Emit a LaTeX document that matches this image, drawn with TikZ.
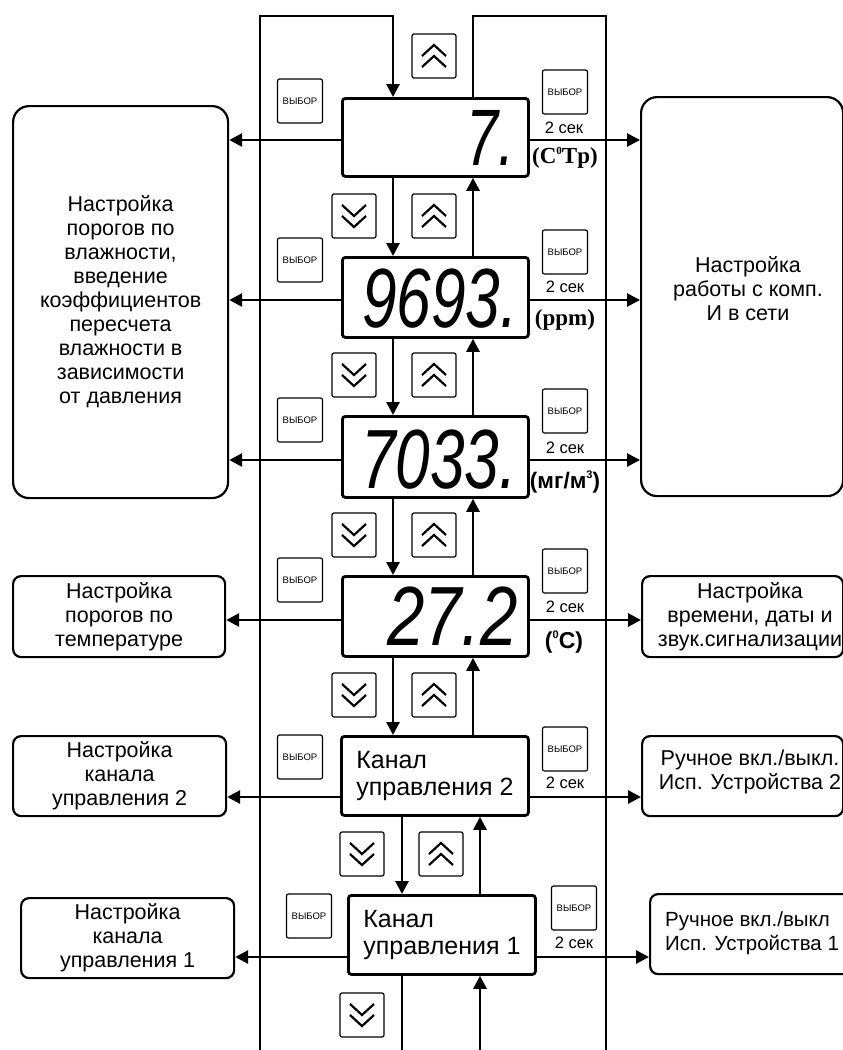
\documentclass[tikz,border=0pt]{standalone}
\usepackage{fontspec}
\usepackage{graphicx}
\setmainfont{Liberation Sans}
\newfontfamily\tnr{Liberation Serif}
\usetikzlibrary{arrows.meta}
\newcommand{\smsup}[1]{\raisebox{0.85ex}{\fontsize{11}{11}\selectfont #1}}
\tikzset{
 ln/.style={line width=2.8pt},
 arr/.style={line width=2.8pt,-{Triangle[length=13pt,width=13pt]}},
 disp/.style={draw,line width=2.8pt,rounded corners=3pt,inner sep=0pt,anchor=north west},
 sidebox/.style={draw,line width=2.2pt,inner sep=0pt,anchor=north west,align=center,font=\fontsize{21.5}{24}\selectfont},
 sidetext/.style={inner sep=0pt,align=center,font=\fontsize{21.5}{24}\selectfont},
 btn/.style={draw,line width=1.2pt,rounded corners=2pt,minimum width=44pt,minimum height=44pt,inner sep=0pt},
 selbtn/.style={btn,minimum width=45pt,font=\fontsize{9.5}{10}\selectfont},
 sectext/.style={inner sep=0pt,font=\fontsize{16.5}{16.5}\selectfont},
 chev/.style={line width=2.2pt},
 segtext/.style={inner sep=0pt,anchor=base east,font=\fontsize{84}{84}\selectfont\itshape},
 unit/.style={inner sep=0pt},
 chan/.style={disp,align=left,font=\fontsize{25}{27}\selectfont},
}
\begin{document}
\begin{tikzpicture}[x=1pt,y=-1pt]
\useasboundingbox (0,0) rectangle (843,1050);
\clip (0,0) rectangle (843,1050);
% helper coordinates
\coordinate (xd) at (393,0); \coordinate (xu) at (473,0);
\coordinate (xd2) at (402,0); \coordinate (xu2) at (480,0);
\coordinate (y1) at (0,140); \coordinate (y2) at (0,300); \coordinate (y3) at (0,460);
\coordinate (y4) at (0,620); \coordinate (y5) at (0,797); \coordinate (y6) at (0,957);
\coordinate (lrb) at (260,1055); \coordinate (lrt) at (260,16);
\coordinate (rrb) at (606,1055); \coordinate (rrt) at (606,16);
% display boxes
\node[disp,minimum width=186pt,minimum height=78pt] (b1) at (341,97) {};
\node[disp,minimum width=186pt,minimum height=80pt] (b2) at (341,256) {};
\node[disp,minimum width=186pt,minimum height=81pt] (b3) at (341,415) {};
\node[disp,minimum width=186pt,minimum height=80pt] (b4) at (341,575) {};
\node[chan,minimum width=187pt,minimum height=79pt] (b5) at (340,735) {Канал\\управления 2};
\node[chan,minimum width=187pt,minimum height=79pt] (b6) at (347,894) {Канал\\управления 1};
% display readings
\node[segtext,font=\fontsize{80}{80}\selectfont\itshape] (d1) at (515,165) {\scalebox{0.72}[1]{7.}};
\node[segtext] (d2) at (518,327) {\scalebox{0.74}[1]{9693.}};
\node[segtext] (d3) at (517,488) {\scalebox{0.74}[1]{7033.}};
\node[segtext] (d4) at (518,645) {\scalebox{0.8}[1]{27.2}};
% units
\node[unit,font=\tnr\bfseries\fontsize{23}{23}\selectfont] (un1) at (565,158) {(C\smsup{0}Tp)};
\node[unit,font=\tnr\bfseries\fontsize{23}{23}\selectfont] (un2) at (565,320) {(ppm)};
\node[unit,font=\bfseries\fontsize{22.5}{22.5}\selectfont] (un3) at (565,482) {(мг/м\smsup{3})};
\node[unit,font=\bfseries\fontsize{23}{23}\selectfont] (un4) at (564,642) {(\smsup{0}C)};
% side boxes
\node[sidebox,rounded corners=16pt,minimum width=215pt,minimum height=392pt] (L1) at (12,105)
 {Настройка\\порогов по\\влажности,\\введение\\коэффициентов\\пересчета\\влажности в\\зависимости\\от давления};
\node[sidebox,rounded corners=16pt,minimum width=202pt,minimum height=399pt] (R1) at (640,96) {};
\node[sidetext] (R1t) at (748,289) {Настройка\\работы с комп.\\И в сети};
\node[sidebox,rounded corners=8pt,minimum width=212pt,minimum height=81pt] (L4) at (12,575) {Настройка\\порогов по\\температуре};
\node[sidebox,rounded corners=8pt,minimum width=201pt,minimum height=81pt] (R4) at (641,575) {};
\node[sidetext] (R4t) at (750,617) {Настройка\\времени, даты и\\звук.сигнализации};
\node[sidebox,rounded corners=8pt,minimum width=213pt,minimum height=80pt] (L5) at (12,735) {Настройка\\канала\\управления 2};
\node[sidebox,rounded corners=8pt,minimum width=201pt,minimum height=80pt] (R5) at (641,735) {};
\node[sidetext] (R5t) at (750,772) {Ручное вкл./выкл.\\Исп. Устройства 2};
\node[sidebox,rounded corners=8pt,minimum width=213pt,minimum height=80pt] (L6) at (20,897) {Настройка\\канала\\управления 1};
\node[sidebox,rounded corners=8pt,minimum width=215pt,minimum height=80pt] (R6) at (649,893) {};
\node[sidetext,align=left,anchor=west,font=\fontsize{20.5}{24}\selectfont] (R6t) at (665,933) {Ручное вкл./выкл\\Исп. Устройства 1};
% rails
\draw[arr] (lrb) -- (lrt) -| (b1.north -| xd);
\draw[ln] (b1.north -| xu) |- (rrt) -- (rrb);
% vertical connectors
\draw[arr] (b1.south -| xd) -- (b2.north -| xd);
\draw[arr] (b2.north -| xu) -- (b1.south -| xu);
\draw[arr] (b2.south -| xd) -- (b3.north -| xd);
\draw[arr] (b3.north -| xu) -- (b2.south -| xu);
\draw[arr] (b3.south -| xd) -- (b4.north -| xd);
\draw[arr] (b4.north -| xu) -- (b3.south -| xu);
\draw[arr] (b4.south -| xd) -- (b5.north -| xd);
\draw[arr] (b5.north -| xu) -- (b4.south -| xu);
\draw[arr] (b5.south -| xd2) -- (b6.north -| xd2);
\draw[arr] (b6.north -| xu2) -- (b5.south -| xu2);
\draw[ln] (b6.south -| xd2) -- (xd2 |- lrb);
\draw[arr] (xu2 |- lrb) -- (b6.south -| xu2);
% horizontal connectors
\draw[arr] (b1.west |- y1) -- (L1.east |- y1);
\draw[arr] (b1.east |- y1) -- (R1.west |- y1);
\draw[arr] (b2.west |- y2) -- (L1.east |- y2);
\draw[arr] (b2.east |- y2) -- (R1.west |- y2);
\draw[arr] (b3.west |- y3) -- (L1.east |- y3);
\draw[arr] (b3.east |- y3) -- (R1.west |- y3);
\draw[arr] (b4.west |- y4) -- (L4.east |- y4);
\draw[arr] (b4.east |- y4) -- (R4.west |- y4);
\draw[arr] (b5.west |- y5) -- (L5.east |- y5);
\draw[arr] (b5.east |- y5) -- (R5.west |- y5);
\draw[arr] (b6.west |- y6) -- (L6.east |- y6);
\draw[arr] (b6.east |- y6) -- (R6.west |- y6);
% up buttons
\node[btn] (u0) at (434,56) {};
\node[btn] (u1) at (434,216) {};
\node[btn] (u2) at (434,375) {};
\node[btn] (u3) at (434,535) {};
\node[btn] (u4) at (434,695) {};
\node[btn] (u5) at (441,854) {};
% down buttons
\node[btn] (w1) at (354,216) {};
\node[btn] (w2) at (354,375) {};
\node[btn] (w3) at (354,535) {};
\node[btn] (w4) at (354,695) {};
\node[btn] (w5) at (362,854) {};
\node[btn] (w6) at (362,1015) {};
\foreach \n in {u0,u1,u2,u3,u4,u5}{
 \begin{scope}[shift={(\n.center)}]
  \draw[chev] (-12,0) -- (0,-11) -- (12,0);
  \draw[chev] (-12,11) -- (0,0) -- (12,11);
 \end{scope}}
\foreach \n in {w1,w2,w3,w4,w5,w6}{
 \begin{scope}[shift={(\n.center)}]
  \draw[chev] (-12,0) -- (0,11) -- (12,0);
  \draw[chev] (-12,-11) -- (0,0) -- (12,-11);
 \end{scope}}
% select buttons
\node[selbtn] (s1) at (300,101) {ВЫБОР};
\node[selbtn] (s2) at (300,260) {ВЫБОР};
\node[selbtn] (s3) at (300,420) {ВЫБОР};
\node[selbtn] (s4) at (300,580) {ВЫБОР};
\node[selbtn] (s5) at (300,757) {ВЫБОР};
\node[selbtn] (s6) at (309,916) {ВЫБОР};
\node[selbtn] (t1) at (565,92) {ВЫБОР};
\node[selbtn] (t2) at (565,252) {ВЫБОР};
\node[selbtn] (t3) at (565,411) {ВЫБОР};
\node[selbtn] (t4) at (565,571) {ВЫБОР};
\node[selbtn] (t5) at (565,749) {ВЫБОР};
\node[selbtn] (t6) at (574,908) {ВЫБОР};
\node[sectext] (k1) at (564,128) {2 сек};
\node[sectext] (k2) at (565,287) {2 сек};
\node[sectext] (k3) at (565,448) {2 сек};
\node[sectext] (k4) at (565,607) {2 сек};
\node[sectext] (k5) at (565,783) {2 сек};
\node[sectext] (k6) at (574,943) {2 сек};
\end{tikzpicture}
\end{document}
